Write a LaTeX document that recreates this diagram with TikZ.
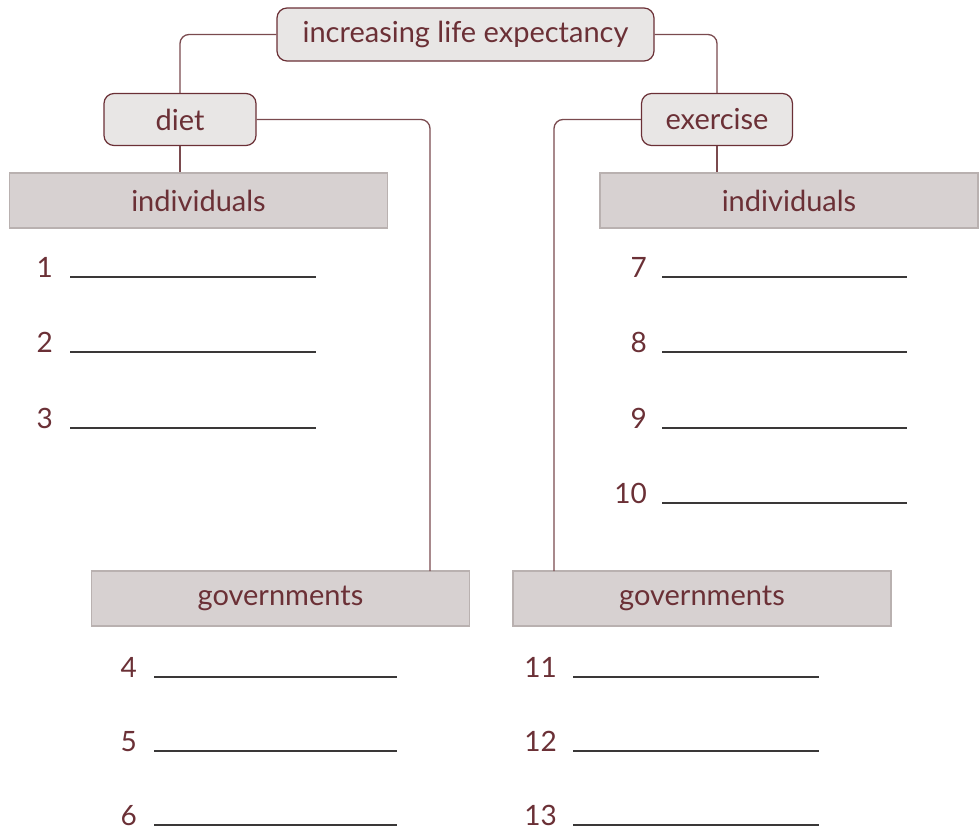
\documentclass[tikz,border=0pt]{standalone}
\usepackage{fontspec}
\setmainfont{Lato}
\usepackage{xcolor}
\usetikzlibrary{positioning,calc}
\definecolor{wine}{HTML}{6b3036}
\definecolor{wireline}{HTML}{7a4a4e}
\definecolor{capfill}{HTML}{e8e6e5}
\definecolor{barfill}{HTML}{d7d1d1}
\definecolor{barline}{HTML}{b9b1b0}
\definecolor{rule}{HTML}{3a3838}

\begin{document}
\begin{tikzpicture}[x=1pt,y=-1pt,font=\fontsize{29}{34}\selectfont,text=wine,
  topic/.style={draw=wine,line width=1.2pt,fill=capfill,rounded corners=10pt,inner sep=0pt},
  section/.style={draw=barline,line width=1.2pt,fill=barfill,minimum width=378,minimum height=55,inner sep=0pt},
  link/.style={draw=wireline,line width=1.3pt,rounded corners=9pt},
  num/.style={anchor=base east,inner sep=0pt,font=\fontsize{28}{30}\selectfont},
  blank/.style={draw=rule,line width=1.4pt}]
  \useasboundingbox (0,0) rectangle (979,830);
  % heading and the two branches
  \node[topic,minimum width=377,minimum height=53] (top) at (465.5,34.5) {increasing life expectancy};
  \node[topic,minimum width=152,minimum height=52] (diet) at (180,119.5) {diet};
  \node[topic,minimum width=151,minimum height=52] (ex) at (717,119.5) {exercise};
  % section bars
  \node[section] (indl) at (198.5,200.5) {individuals};
  \node[section] (indr) at (789,200.5) {individuals};
  \node[section] (govl) at (280.5,598.5) {governments};
  \node[section] (govr) at (702,598.5) {governments};
  \coordinate (dl) at (430,571);
  \coordinate (er) at (554,571);
  \draw[link] (top.west) -| (diet.north);
  \draw[link] (top.east) -| (ex.north);
  \draw[link] (diet.south) -- (diet.south |- indl.north);
  \draw[link] (ex.south) -- (ex.south |- indr.north);
  \draw[link] (diet.east) -| (dl);
  \draw[link] (ex.west) -| (er);
  % answer lines
  \foreach \n/\y in {1/277,2/352,3/428} {
    \node[num] (n\n) at (53,\y) {\n};
    \coordinate (b\n) at (70,\y);
    \draw[blank] (b\n) -- ++(246,0);
  }
  \foreach \n/\y in {7/277,8/352,9/428,10/503} {
    \node[num] (n\n) at (647,\y) {\n};
    \coordinate (b\n) at (662,\y);
    \draw[blank] (b\n) -- ++(245,0);
  }
  \foreach \n/\y in {4/677,5/751,6/825} {
    \node[num] (n\n) at (137,\y) {\n};
    \coordinate (b\n) at (154,\y);
    \draw[blank] (b\n) -- ++(243,0);
  }
  \foreach \n/\y in {11/677,12/751,13/825} {
    \node[num] (n\n) at (557,\y) {\n};
    \coordinate (b\n) at (573,\y);
    \draw[blank] (b\n) -- ++(246,0);
  }
\end{tikzpicture}
\end{document}
